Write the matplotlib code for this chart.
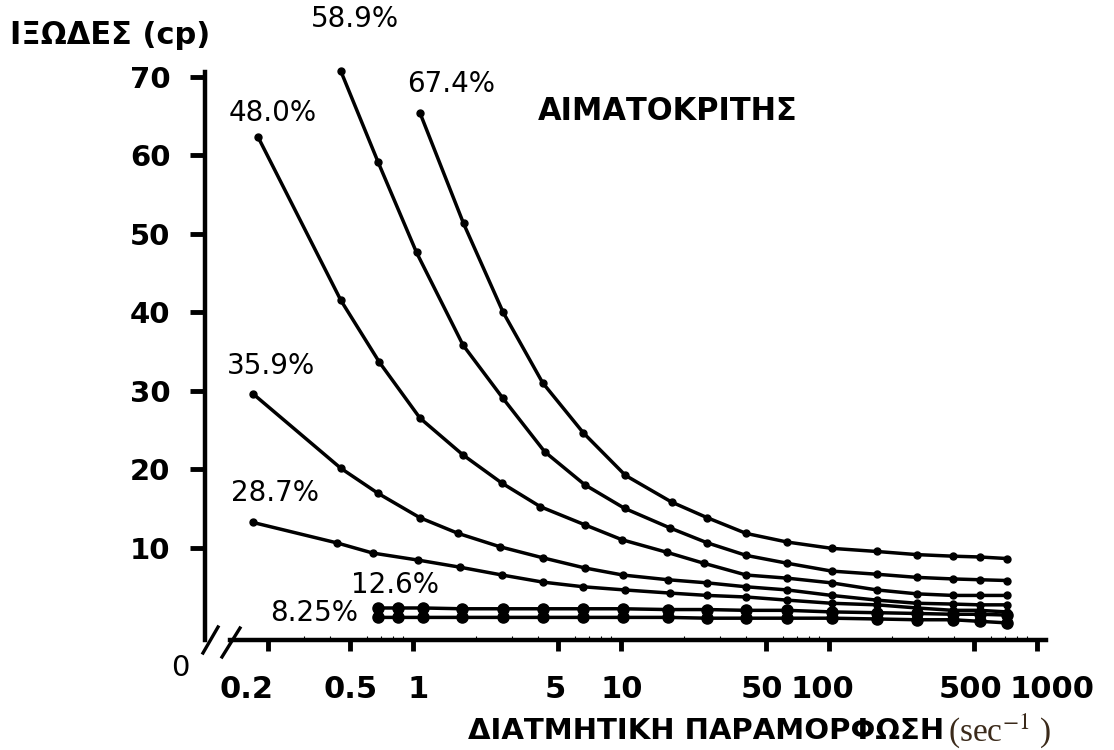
import matplotlib
matplotlib.use("Agg")
import matplotlib.pyplot as plt
from matplotlib.transforms import ScaledTranslation

plt.rcParams['font.family'] = ['DejaVu Sans']
plt.rcParams['mathtext.fontset'] = 'stix'

# ---------------- data ----------------
shear_674 = [1.08, 1.75, 2.71, 4.2, 6.6, 10.5, 17.5, 26, 40, 63, 103, 170, 265, 395, 530, 717]
visc_674 = [65.4, 51.3, 40.0, 31.0, 24.6, 19.2, 15.8, 13.8, 11.8, 10.7, 9.9, 9.5, 9.1, 8.9, 8.8, 8.6]

shear_589 = [0.45, 0.68, 1.04, 1.74, 2.71, 4.3, 6.7, 10.4, 17.2, 26, 40, 63, 103, 170, 265, 395, 530, 717]
visc_589 = [70.7, 59.1, 47.6, 35.8, 29.0, 22.2, 18.0, 15.0, 12.5, 10.6, 9.0, 8.0, 7.0, 6.6, 6.2, 6.0, 5.9, 5.8]

shear_480 = [0.18, 0.45, 0.69, 1.08, 1.74, 2.68, 4.1, 6.7, 10.1, 16.6, 25, 40, 63, 103, 170, 265, 395, 530, 717]
visc_480 = [62.3, 41.5, 33.6, 26.5, 21.8, 18.2, 15.2, 12.9, 11.0, 9.4, 8.0, 6.5, 6.1, 5.5, 4.6, 4.1, 3.9, 3.9, 3.9]

shear_359 = [0.17, 0.45, 0.68, 1.08, 1.65, 2.62, 4.2, 6.7, 10.2, 16.8, 26, 40, 63, 103, 170, 265, 395, 530, 717]
visc_359 = [29.6, 20.1, 16.9, 13.8, 11.8, 10.1, 8.7, 7.4, 6.5, 5.9, 5.5, 5.0, 4.6, 3.9, 3.3, 2.9, 2.8, 2.7, 2.7]

shear_287 = [0.17, 0.43, 0.64, 1.06, 1.68, 2.68, 4.2, 6.6, 10.4, 17.2, 26, 40, 63, 103, 170, 265, 395, 530, 717]
visc_287 = [13.2, 10.6, 9.3, 8.4, 7.5, 6.5, 5.6, 5.0, 4.6, 4.2, 3.9, 3.7, 3.3, 2.9, 2.7, 2.3, 2.0, 2.0, 1.8]

shear_126 = [0.68, 0.85, 1.12, 1.72, 2.71, 4.2, 6.6, 10.2, 16.8, 26, 40, 63, 103, 170, 265, 395, 530, 717]
visc_126 = [2.3, 2.3, 2.3, 2.2, 2.2, 2.2, 2.2, 2.2, 2.1, 2.1, 2.0, 2.0, 1.8, 1.7, 1.6, 1.5, 1.5, 1.4]

shear_825 = [0.68, 0.85, 1.12, 1.72, 2.71, 4.2, 6.6, 10.2, 16.8, 26, 40, 63, 103, 170, 265, 395, 530, 717]
visc_825 = [1.1, 1.1, 1.1, 1.1, 1.1, 1.1, 1.1, 1.1, 1.1, 1.0, 1.0, 1.0, 1.0, 0.9, 0.8, 0.8, 0.6, 0.4]

hematocrit_labels = ["67.4%", "58.9%", "48.0%", "35.9%", "28.7%", "12.6%", "8.25%"]

x_ticks = [0.2, 0.5, 1, 5, 10, 50, 100, 500, 1000]
x_ticklabels = ["0.2", "0.5", "1", "5", "10", "50", "100", "500", "1000"]
y_ticks = [10, 20, 30, 40, 50, 60, 70]
y_ticklabels = ["10", "20", "30", "40", "50", "60", "70"]

y_title = "ΙΞΩΔΕΣ (cp)"
x_title = "ΔΙΑΤΜΗΤΙΚΗ ΠΑΡΑΜΟΡΦΩΣΗ"
x_unit = r"(sec$^{-1}$ )"
legend_title = "ΑΙΜΑΤΟΚΡΙΤΗΣ"

# ---------------- figure ----------------
W, H = 1114, 750
fig = plt.figure(figsize=(W / 100, H / 100), dpi=100)
ax_l, ax_r, ax_t, ax_b = 205, 1046, 72, 640
ax = fig.add_axes([ax_l / W, 1 - ax_b / H, (ax_r - ax_l) / W, (ax_b - ax_t) / H])

ax.set_xscale('log')
ax.set_xlim(0.1, 1105)
ax.set_ylim(-1.78, 70.6)

series = [
    (shear_674, visc_674, 5),
    (shear_589, visc_589, 5),
    (shear_480, visc_480, 5),
    (shear_359, visc_359, 5),
    (shear_287, visc_287, 5),
    (shear_126, visc_126, 8),
    (shear_825, visc_825, 8),
]
for xs, ys, ms in series:
    ax.plot(xs, ys, color='black', lw=2.5, marker='o', ms=ms,
            mfc='black', mec='black', solid_capstyle='round',
            solid_joinstyle='round', clip_on=False)

for s in ('top', 'right'):
    ax.spines[s].set_visible(False)
ax.spines['left'].set_linewidth(3.2)
ax.spines['bottom'].set_linewidth(3.2)
ax.spines['bottom'].set_bounds(0.132, 1105)

ax.set_yticks(y_ticks)
ax.set_yticklabels(y_ticklabels, fontweight='bold')
ax.tick_params(axis='y', direction='out', length=11, width=3.5, pad=14, labelsize=21)

ax.set_xticks(x_ticks)
ax.tick_params(axis='x', which='major', direction='out', length=8, width=3.5,
               labelbottom=False)
ax.tick_params(axis='x', which='minor', direction='in', length=3, width=0.8)
ax.set_xticklabels([])

# tick labels slightly displaced as in the scanned original
x_label_dx = [-21, 0, 5, -3, 1, -4, -7, -4, 15]
for tv, tl, dx in zip(x_ticks, x_ticklabels, x_label_dx):
    tr = ax.get_xaxis_transform() + ScaledTranslation(dx / 100, -50 / 100, fig.dpi_scale_trans)
    ax.text(tv, 0, tl, transform=tr, ha='center', va='center', fontsize=22,
            fontweight='bold', clip_on=False)

# axis break marks
ax.plot([-0.0024, 0.0155], [-0.0229, 0.0229], transform=ax.transAxes, color='black',
        lw=2.4, clip_on=False)
ax.plot([0.0202, 0.0416], [-0.0299, 0.0211], transform=ax.transAxes, color='black',
        lw=2.4, clip_on=False)

# zero label at the broken corner
fig.text(180 / W, 1 - 668 / H, "0", ha='center', va='center', fontsize=21)

# curve labels
label_pos = [(451, 84), (355, 19), (273, 113), (271, 366), (275, 493), (395, 585), (314, 613)]
for lab, (px, py) in zip(hematocrit_labels, label_pos):
    fig.text(px / W, 1 - py / H, lab, ha='center', va='center', fontsize=20)

fig.text(668 / W, 1 - 111 / H, legend_title, ha='center', va='center', fontsize=22,
         fontweight='bold')

# axis titles
fig.text(10 / W, 1 - 35 / H, y_title, ha='left', va='center', fontsize=22, fontweight='bold')
t1 = fig.text(468 / W, 1 - 731 / H, x_title, ha='left', va='center', fontsize=21,
              fontweight='bold')
ax.annotate(x_unit, xy=(1, 0.5), xycoords=t1, xytext=(3, 0), textcoords='offset points',
            ha='left', va='center', fontsize=24, family='Liberation Serif', color='#3b2a1a',
            annotation_clip=False)

fig.savefig("out.png", dpi=100)
